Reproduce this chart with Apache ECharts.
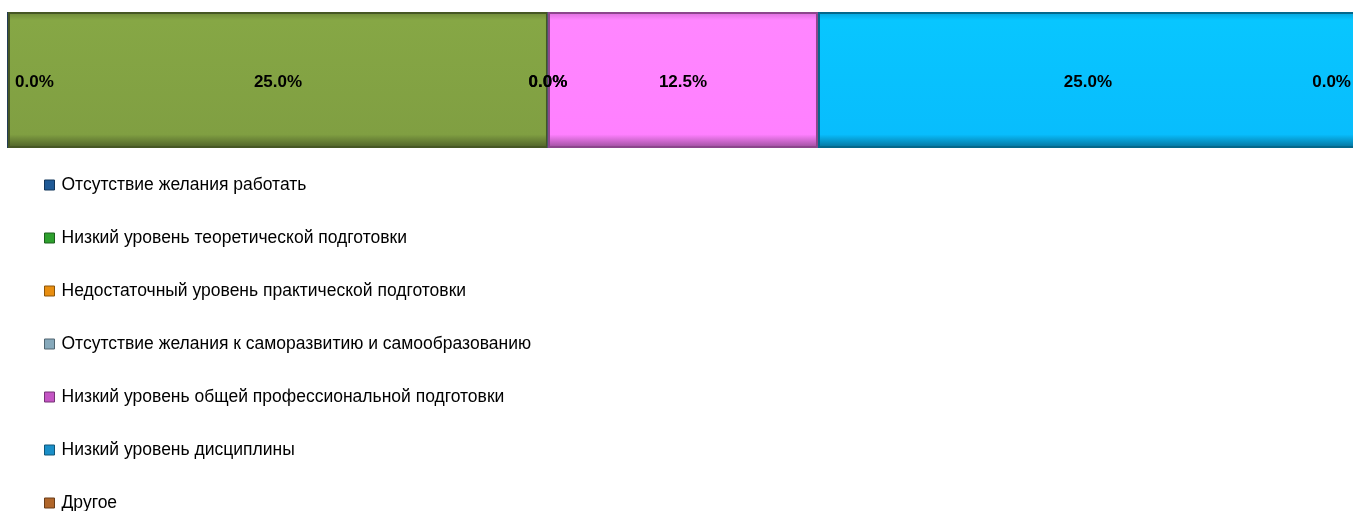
<!DOCTYPE html>
<html>
<head>
<meta charset="utf-8">
<script src="https://cdn.jsdelivr.net/npm/echarts@6/dist/echarts.min.js"></script>
<style>
  html,body{margin:0;padding:0;background:#fff;}
  #chart{width:1353px;height:511px;}
</style>
</head>
<body>
<div id="chart"></div>
<script>
// данные диаграммы
var categories = ["Причины"];
var seriesNames = [
  "Отсутствие желания работать",
  "Низкий уровень теоретической подготовки",
  "Недостаточный уровень практической подготовки",
  "Отсутствие желания к саморазвитию и самообразованию",
  "Низкий уровень общей профессиональной подготовки",
  "Низкий уровень дисциплины",
  "Другое"
];
var values = [0, 25, 0, 0, 12.5, 25, 0];
var barColors = ["#3f6f9f", "#809f42", "#e8900f", "#7fa3b8", "#ff80ff", "#08bdfd", "#b0662a"];
var legendColors = ["#1f5a96", "#2ea02e", "#e88e10", "#86a9bb", "#c455c4", "#1a8fc8", "#b0662a"];

function shade(hex, k){
  var n = parseInt(hex.slice(1),16);
  var r = Math.round(((n>>16)&255)*k), g = Math.round(((n>>8)&255)*k), b = Math.round((n&255)*k);
  return "rgb("+Math.min(r,255)+","+Math.min(g,255)+","+Math.min(b,255)+")";
}

var myChart = echarts.init(document.getElementById("chart"));

var series = seriesNames.map(function(name, i){
  var pos = "inside";
  if (i === 0) pos = "insideLeft";
  if (i === seriesNames.length - 1) pos = "insideRight";
  return {
    type: "bar",
    name: name,
    stack: "total",
    barWidth: 136,
    clip: false,
    data: [values[i]],
    itemStyle: {
      color: new echarts.graphic.LinearGradient(0, 0, 0, 1, [
        {offset: 0, color: shade(barColors[i], 0.85)},
        {offset: 0.06, color: shade(barColors[i], 1.05)},
        {offset: 0.9, color: barColors[i]},
        {offset: 1, color: shade(barColors[i], 0.6)}
      ]),
      borderColor: shade(barColors[i], 0.55),
      borderWidth: 2
    },
    label: {
      show: true,
      position: pos,
      distance: 8,
      offset: [0, 2],
      color: "#000",
      fontFamily: "Liberation Sans Narrow, Arial Narrow, Liberation Sans, Arial",
      fontWeight: "bold",
      fontSize: 17,
      formatter: function(p){ return p.value.toFixed(1) + "%"; }
    }
  };
});

myChart.setOption({
  animation: false,
  // полоса в оригинале чуть шире окна, правый край обрезан
  grid: {left: 8, right: 0, top: 12, height: 136},
  xAxis: {type: "value", min: 0, max: 62.27, show: false},
  yAxis: {type: "category", data: categories, show: false},
  legend: {
    orient: "vertical",
    left: 44,
    top: 176,
    height: 420,
    padding: 0,
    itemWidth: 10,
    itemHeight: 10,
    itemGap: 35,
    icon: "rect",
    textStyle: {
      fontFamily: "Liberation Sans Narrow, Arial Narrow, Liberation Sans, Arial",
      fontSize: 17.5,
      lineHeight: 18,
      color: "#000",
      padding: [0, 0, 0, 2]
    },
    data: seriesNames.map(function(n, i){
      return {name: n, itemStyle: {color: legendColors[i], borderColor: shade(legendColors[i], 0.6), borderWidth: 1}};
    })
  },
  series: series
});
</script>
</body>
</html>
